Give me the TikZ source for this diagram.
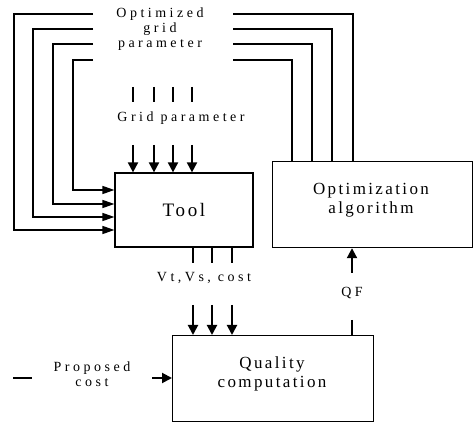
\documentclass[tikz,border=0pt]{standalone}
\usepackage{fontspec}
\setmainfont{Liberation Serif}
\newfontfamily\labfont[LetterSpace=25]{Liberation Serif}
\newfontfamily\boxfont[LetterSpace=14]{Liberation Serif}
\usetikzlibrary{positioning, arrows.meta}

\begin{document}
\begin{tikzpicture}[
            x=1pt, y=-1pt,
            box/.style={draw, line width=1.2pt, rectangle, inner sep=0pt},
            lbl/.style={font=\labfont\fontsize{14}{15}\selectfont, align=center, inner sep=0pt},
            boxlbl/.style={font=\boxfont\fontsize{17}{19}\selectfont, align=center, inner sep=0pt},
            feed/.style={line width=1.2pt},
            feedin/.style={line width=1.4pt, -{Triangle[width=8pt, length=12pt]}},
            flow/.style={line width=2pt, -{Triangle[width=10pt, length=10pt]}},
            stub/.style={line width=2.5pt},
        ]
            \useasboundingbox (0,0) rectangle (475,422);

            % blocks
            \node[box, minimum width=138pt, minimum height=74pt] (tool) at (184,210)
                {\boxfont\fontsize{19}{20}\selectfont Tool};
            \node[box, anchor=north west, minimum width=200pt, minimum height=86pt] (opt) at (272,161) {};
            \node[boxlbl] (optlbl) at (371,200) {Optimization\\algorithm};
            \node[box, anchor=north west, minimum width=201pt, minimum height=86pt] (qual) at (172,335) {};
            \node[boxlbl] (quallbl) at (272,374) {Quality\\computation};

            % labels
            \node[lbl] (optgrid) at (160,29) {Optimized\\grid\\parameter};
            \node[lbl] (grid) at (181,118) {Grid parameter};
            \node[lbl] (outs) at (204,278) {Vt,Vs, cost};
            \node[lbl] (qf) at (352,293) {QF};
            \node[lbl] (prop) at (92,374) {Proposed\\cost};

            % feedback from optimization to tool
            \foreach \xl/\xr/\yt/\yin in {14/353/14/230, 33/332/29/217, 53/312/44/204, 73/292/60/190} {
                \coordinate (fl) at (93,\yt);
                \coordinate (fr) at (233,\yt);
                \draw[feed] (fr) -| (\xr,0 |- opt.north);
                \draw[feedin] (fl) -| (\xl,\yin) -- (tool.west |- 0,\yin);
            }

            % grid parameter into tool
            \foreach \x in {133,154,173,192} {
                \draw[stub] (\x,87) -- (\x,102);
                \draw[flow] (\x,145) -- (\x,0 |- tool.north);
            }

            % tool outputs into quality computation
            \foreach \x in {193,212,232} {
                \draw[stub] (\x,0 |- tool.south) -- (\x,263);
                \draw[flow] (\x,305) -- (\x,0 |- qual.north);
            }

            % quality factor back to optimization
            \draw[flow] (352,273) -- (352,0 |- opt.south);
            \draw[stub] (352,320) -- (352,0 |- qual.north);

            % proposed cost
            \draw[stub] (13,378) -- (32,378);
            \draw[flow] (152,378) -- (qual.west |- 0,378);
        \end{tikzpicture}
\end{document}
